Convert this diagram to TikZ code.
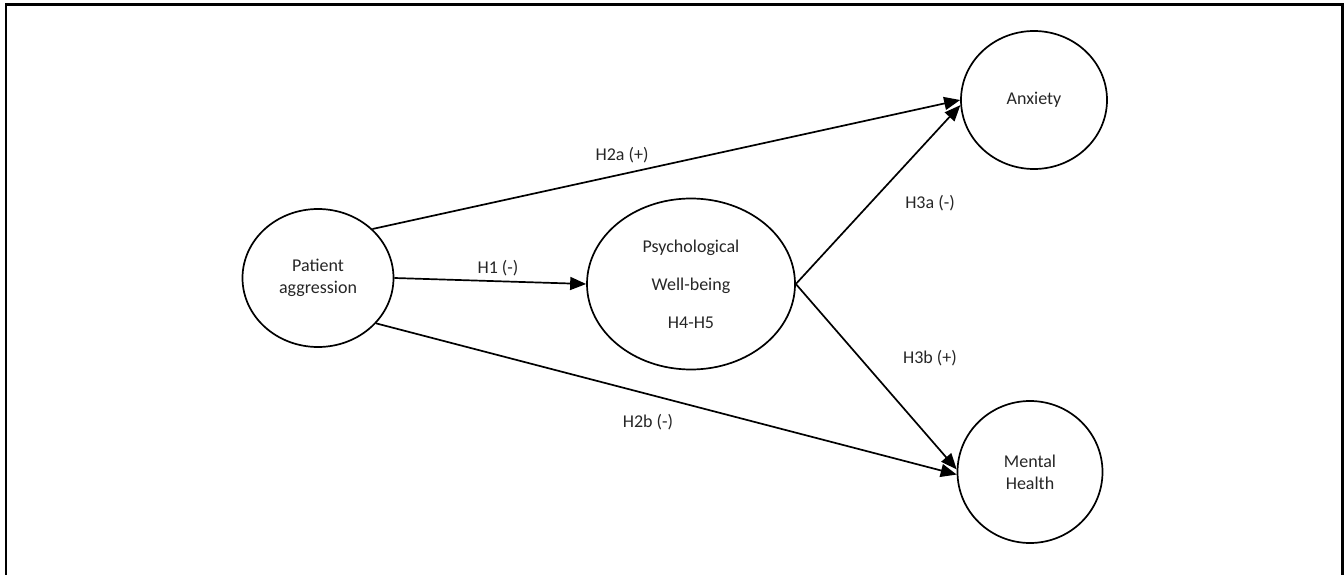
\documentclass[tikz,border=0pt]{standalone}
\usepackage{fontspec}
\setmainfont{Carlito}
\usetikzlibrary{arrows.meta,shapes.geometric}
\definecolor{txt}{RGB}{38,38,38}
\tikzset{
  var/.style={draw=black, line width=1.7pt, ellipse, inner sep=0pt, text=txt, align=center, font=\fontsize{18}{21.7}\selectfont},
  lbl/.style={text=txt, inner sep=1pt, font=\fontsize{18}{20}\selectfont},
  path/.style={draw=black, line width=1.7pt, -{Triangle[length=16pt,width=13pt]}},
}
\begin{document}
\begin{tikzpicture}[x=1pt,y=-1pt]
\useasboundingbox (0,0) rectangle (1344,575);
\draw[line width=2.6pt] (6,585) -- (6,4.5) -- (1342.5,4.5) -- (1342.5,585);
\node[var, minimum width=151pt, minimum height=138pt] (pa) at (318,278) {Patient\\aggression};
\node[var, minimum width=208pt, minimum height=171pt, font=\fontsize{18}{38}\selectfont] (pwb) at (691,284) {Psychological\\Well-being\\H4-H5};
\node[var, minimum width=146pt, minimum height=138pt] (anx) at (1034,100) {Anxiety};
\node[var, minimum width=145pt, minimum height=142pt] (mh) at (1030,472) {Mental\\Health};
\draw[path] (pa.42) -- (anx.west);
\draw[path] (pa.east) -- (pwb.west);
\draw[path] (pa.-38) -- (mh.182);
\draw[path] (pwb.east) -- (anx.184);
\draw[path] (pwb.east) -- (mh.178);
\node[lbl] (l2a) at (622,155) {H2a (+)};
\node[lbl] (l1) at (498,268) {H1 (-)};
\node[lbl] (l2b) at (648,422) {H2b (-)};
\node[lbl] (l3a) at (930,203) {H3a (-)};
\node[lbl] (l3b) at (930,358) {H3b (+)};
\end{tikzpicture}
\end{document}
